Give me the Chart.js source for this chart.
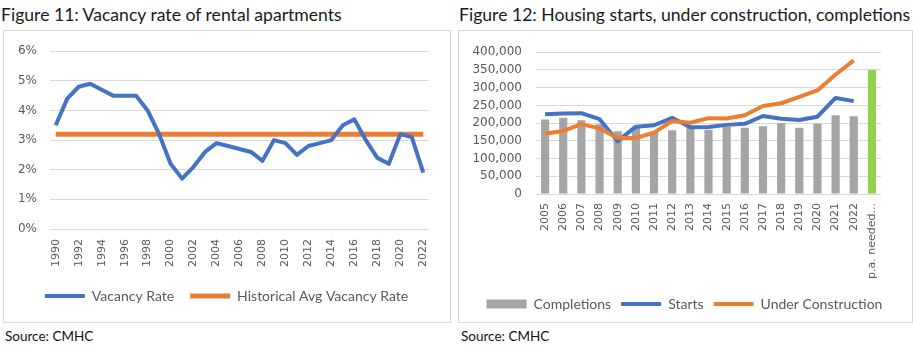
<!DOCTYPE html>
<html>
<head>
<meta charset="utf-8">
<script src="https://cdn.jsdelivr.net/npm/chart.js@4.4.1/dist/chart.umd.min.js"></script>
<style>
  body { margin: 0; background: #fff; width: 913px; height: 358px; position: relative; overflow: hidden; font-family: Lato, sans-serif; }
  .title { position: absolute; top: 4px; font-size: 17.6px; color: #1a1a1a; white-space: nowrap; }
  .box { position: absolute; top: 30px; height: 291px; border: 1px solid #d9d9d9; }
  .source { position: absolute; top: 328px; font-size: 13.5px; color: #111; }
  canvas { position: absolute; }
</style>
</head>
<body>
<div class="title" style="left:1px">Figure 11: Vacancy rate of rental apartments</div>
<div class="title" style="left:459px">Figure 12: Housing starts, under construction, completions</div>
<div class="box" style="left:3px; width:446px"></div>
<div class="box" style="left:458px; width:453px"></div>
<canvas id="vacancyChart" width="445" height="290" style="left:4px; top:31px"></canvas>
<canvas id="housingChart" width="451" height="290" style="left:459px; top:31px"></canvas>
<div class="source" style="left:5px">Source: CMHC</div>
<div class="source" style="left:461px">Source: CMHC</div>

<script>
// Figure 11 data
const vacancyYears = ['1990','1991','1992','1993','1994','1995','1996','1997','1998','1999','2000',
  '2001','2002','2003','2004','2005','2006','2007','2008','2009','2010','2011','2012','2013',
  '2014','2015','2016','2017','2018','2019','2020','2021','2022'];
const vacancyRate = [3.5, 4.4, 4.8, 4.9, 4.7, 4.5, 4.5, 4.5, 4.0, 3.2, 2.2, 1.7, 2.1, 2.6, 2.9,
  2.8, 2.7, 2.6, 2.3, 3.0, 2.9, 2.5, 2.8, 2.9, 3.0, 3.5, 3.7, 3.0, 2.4, 2.2, 3.2, 3.1, 1.9];
const historicalAvg = vacancyYears.map(() => 3.2);

// Figure 12 data
const housingLabels = ['2005','2006','2007','2008','2009','2010','2011','2012','2013','2014',
  '2015','2016','2017','2018','2019','2020','2021','2022','p.a. needed...'];
const completions = [210000, 215000, 208000, 197000, 177000, 187000, 177000, 180000, 188000, 181000,
  190000, 187000, 191000, 200000, 187000, 199000, 222000, 219000, 350000];
const starts = [225000, 227000, 228000, 211000, 149000, 190000, 194000, 215000, 188000, 189000,
  195000, 198000, 220000, 212000, 209000, 218000, 271000, 262000, null];
const underConstruction = [170000, 178000, 197000, 185000, 158000, 158000, 173000, 206000, 201000, 214000,
  213000, 222000, 248000, 256000, 274000, 292000, 337000, 377000, null];

const BLUE = '#4472C4';
const ORANGE = '#ED7D31';
const GREY = '#A5A5A5';
const GREEN = '#92D050';
const TEXT = '#595959';
const GRID = '#d9d9d9';

const yTickFont = { family: 'DejaVu Sans', size: 12 };
const xTickFont = { family: 'DejaVu Sans', size: 11 };
const legendFont = { family: 'Lato', size: 14 };

function legendLabels(chart) {
  const items = Chart.defaults.plugins.legend.labels.generateLabels(chart);
  items.forEach(item => {
    const ds = chart.data.datasets[item.datasetIndex];
    item.pointStyle = ds.type === 'bar' ? 'rect' : 'line';
    item.fillStyle = ds.legendColor;
    item.strokeStyle = ds.legendColor;
    if (ds.type === 'bar') item.lineWidth = 0;
  });
  return items.sort((a, b) => a.datasetIndex - b.datasetIndex);
}

function legendOpts(padding) {
  return {
    position: 'bottom',
    labels: {
      usePointStyle: true,
      pointStyleWidth: 40,
      boxHeight: 9,
      padding: padding,
      color: TEXT,
      font: legendFont,
      generateLabels: legendLabels
    }
  };
}

// empty axis on the right, keeps room after the plot without shrinking the legend
function spacerAxis(width) {
  return {
    position: 'right',
    display: true,
    grid: { display: false, drawTicks: false },
    border: { display: false },
    ticks: { display: false },
    afterFit(scale) { scale.width = width; }
  };
}

// Figure 11: vacancy rate
new Chart(document.getElementById('vacancyChart'), {
  type: 'line',
  data: {
    labels: vacancyYears,
    datasets: [{
      type: 'line',
      label: 'Vacancy Rate',
      data: vacancyRate,
      borderColor: BLUE,
      legendColor: BLUE,
      borderWidth: 4,
      borderJoinStyle: 'round',
      pointRadius: 0
    }, {
      type: 'line',
      label: 'Historical Avg Vacancy Rate',
      data: historicalAvg,
      borderColor: ORANGE,
      legendColor: ORANGE,
      borderWidth: 5,
      pointRadius: 0
    }]
  },
  options: {
    responsive: false,
    animation: false,
    layout: { padding: { top: 12, right: 0, left: 0, bottom: 8 } },
    plugins: { legend: legendOpts(16), tooltip: { enabled: false } },
    scales: {
      x: {
        offset: true,
        grid: { display: false, drawTicks: false },
        border: { display: false },
        afterFit(scale) { scale.height = 44; },
        ticks: {
          color: TEXT, font: xTickFont, autoSkip: false, maxRotation: 90, minRotation: 90, padding: 10,
          callback(value, index) { return index % 2 === 0 ? this.getLabelForValue(value) : ''; }
        }
      },
      y: {
        min: 0, max: 6,
        grid: { color: GRID, drawTicks: false },
        border: { display: false },
        afterFit(scale) { scale.width = 46; },
        ticks: { stepSize: 1, autoSkip: false, color: TEXT, font: yTickFont, padding: 13, callback: v => v + '%' }
      },
      spacer: spacerAxis(20)
    }
  }
});

// Figure 12: starts, under construction, completions
new Chart(document.getElementById('housingChart'), {
  type: 'bar',
  data: {
    labels: housingLabels,
    datasets: [{
      type: 'bar',
      label: 'Completions',
      data: completions,
      backgroundColor: completions.map((v, i) => i === completions.length - 1 ? GREEN : GREY),
      legendColor: GREY,
      barPercentage: 0.45,
      categoryPercentage: 1,
      order: 2
    }, {
      type: 'line',
      label: 'Starts',
      data: starts,
      borderColor: BLUE,
      legendColor: BLUE,
      borderWidth: 4,
      borderJoinStyle: 'round',
      pointRadius: 0,
      order: 1
    }, {
      type: 'line',
      label: 'Under Construction',
      data: underConstruction,
      borderColor: ORANGE,
      legendColor: ORANGE,
      borderWidth: 4,
      borderJoinStyle: 'round',
      pointRadius: 0,
      order: 0
    }]
  },
  options: {
    responsive: false,
    animation: false,
    layout: { padding: { top: 11, right: 0, left: 0, bottom: 0 } },
    plugins: { legend: legendOpts(10), tooltip: { enabled: false } },
    scales: {
      x: {
        grid: { display: false, drawTicks: false },
        border: { display: false },
        afterFit(scale) { scale.height = 93; },
        ticks: { color: TEXT, font: xTickFont, autoSkip: false, maxRotation: 90, minRotation: 90, padding: 9 }
      },
      y: {
        min: 0, max: 400000,
        grid: { color: GRID, drawTicks: false },
        border: { display: false },
        afterFit(scale) { scale.width = 77; },
        ticks: { stepSize: 50000, autoSkip: false, color: TEXT, font: yTickFont, padding: 14,
          callback: v => v.toLocaleString('en-US') }
      },
      spacer: spacerAxis(29)
    }
  }
});
</script>
</body>
</html>
